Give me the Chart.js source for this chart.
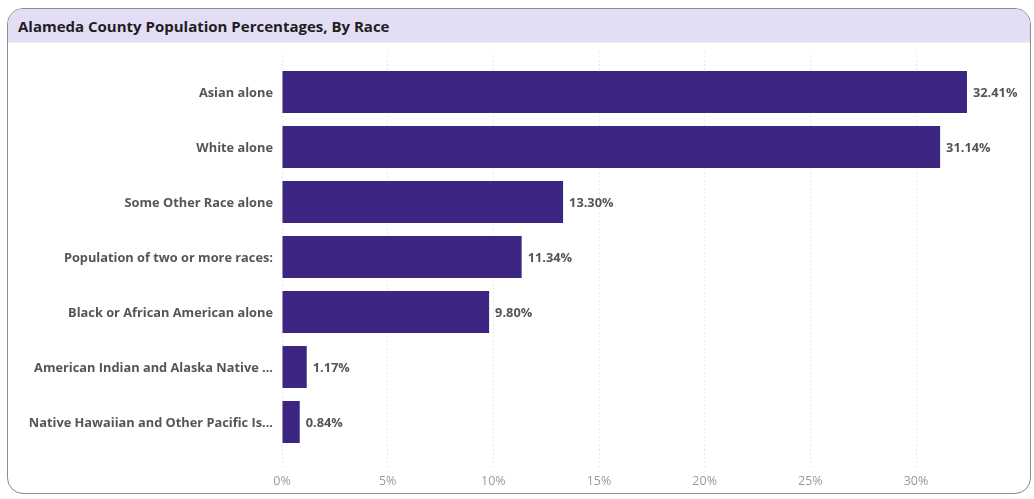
<!DOCTYPE html>
<html>
<head>
<meta charset="utf-8">
<script src="https://cdn.jsdelivr.net/npm/chart.js@4.4.1/dist/chart.umd.min.js"></script>
<style>
  html, body { margin: 0; padding: 0; background: #fff; }
  body { width: 1034px; height: 499px; position: relative; overflow: hidden; font-family: "Open Sans", sans-serif; }
  .card {
    position: absolute; left: 7px; top: 8px; width: 1024px; height: 486px;
    border: 1.5px solid #8c8c8c; border-radius: 16px; box-sizing: border-box; overflow: hidden;
  }
  .card-header {
    height: 33px; background: #e3ddf6; border-bottom: 1px solid #efecf9;
    font-weight: 700; font-size: 15px; color: #1e1e1e; line-height: 35px; padding-left: 10px;
  }
  #raceChart { position: absolute; left: 0; top: 0; }
</style>
</head>
<body>
<div class="card"><div class="card-header">Alameda County Population Percentages, By Race</div></div>
<canvas id="raceChart" width="1034" height="499"></canvas>
<script>
const categories = [
  'Asian alone',
  'White alone',
  'Some Other Race alone',
  'Population of two or more races:',
  'Black or African American alone',
  'American Indian and Alaska Native ...',
  'Native Hawaiian and Other Pacific Is...'
];
const percentages = [32.41, 31.14, 13.30, 11.34, 9.80, 1.17, 0.84];
const xTicks = [0, 5, 10, 15, 20, 25, 30];

const barColor = '#3d2682';
const labelFont = { family: '"Open Sans", sans-serif', size: 12.8, weight: '700' };

// value labels at the end of each bar
const barValueLabels = {
  id: 'barValueLabels',
  afterDatasetsDraw(chart) {
    const ctx = chart.ctx;
    const meta = chart.getDatasetMeta(0);
    ctx.save();
    ctx.font = `${labelFont.weight} ${labelFont.size}px ${labelFont.family}`;
    ctx.fillStyle = '#555555';
    ctx.textAlign = 'left';
    ctx.textBaseline = 'middle';
    meta.data.forEach((bar, i) => {
      ctx.fillText(percentages[i].toFixed(2) + '%', bar.x + 6, bar.y + 1);
    });
    ctx.restore();
  }
};

// dotted vertical gridlines, also on the tick extensions
const gridStyle = {
  color: '#d4d4d4',
  lineWidth: 1,
  tickColor: '#d4d4d4',
  tickBorderDash: [1, 3]
};
const gridBorder = { display: false, dash: [1, 3] };

new Chart(document.getElementById('raceChart').getContext('2d'), {
  type: 'bar',
  data: {
    labels: categories,
    datasets: [{
      data: percentages,
      backgroundColor: barColor,
      borderWidth: 0,
      barPercentage: 0.76,
      categoryPercentage: 1.0
    }]
  },
  options: {
    indexAxis: 'y',
    responsive: false,
    animation: false,
    devicePixelRatio: 1,
    layout: { padding: { top: 52.5, right: 12.3, bottom: 0, left: 0 } },
    plugins: {
      legend: { display: false },
      tooltip: { enabled: false }
    },
    scales: {
      x: {
        type: 'linear',
        min: 0,
        max: 35,
        position: 'bottom',
        afterBuildTicks: s => { s.ticks = xTicks.map(v => ({ value: v })); },
        afterFit: s => { s.height = 49.5; },
        border: gridBorder,
        grid: Object.assign({ tickLength: 18, drawTicks: true }, gridStyle),
        ticks: {
          padding: 6,
          color: '#9a9a9a',
          font: { family: '"Open Sans", sans-serif', size: 12.5 },
          callback: v => v + '%'
        }
      },
      xTop: {
        type: 'linear',
        min: 0,
        max: 35,
        position: 'top',
        afterBuildTicks: s => { s.ticks = xTicks.map(v => ({ value: v })); },
        afterFit: s => { s.height = 12; },
        border: gridBorder,
        grid: Object.assign({ tickLength: 12, drawOnChartArea: false }, gridStyle),
        ticks: { display: false }
      },
      y: {
        afterFit: s => { s.width = 282; },
        border: { display: false },
        grid: { display: false, drawTicks: false },
        ticks: {
          padding: 9,
          labelOffset: 1.5,
          color: '#555555',
          font: labelFont
        }
      }
    }
  },
  plugins: [barValueLabels]
});
</script>
</body>
</html>
